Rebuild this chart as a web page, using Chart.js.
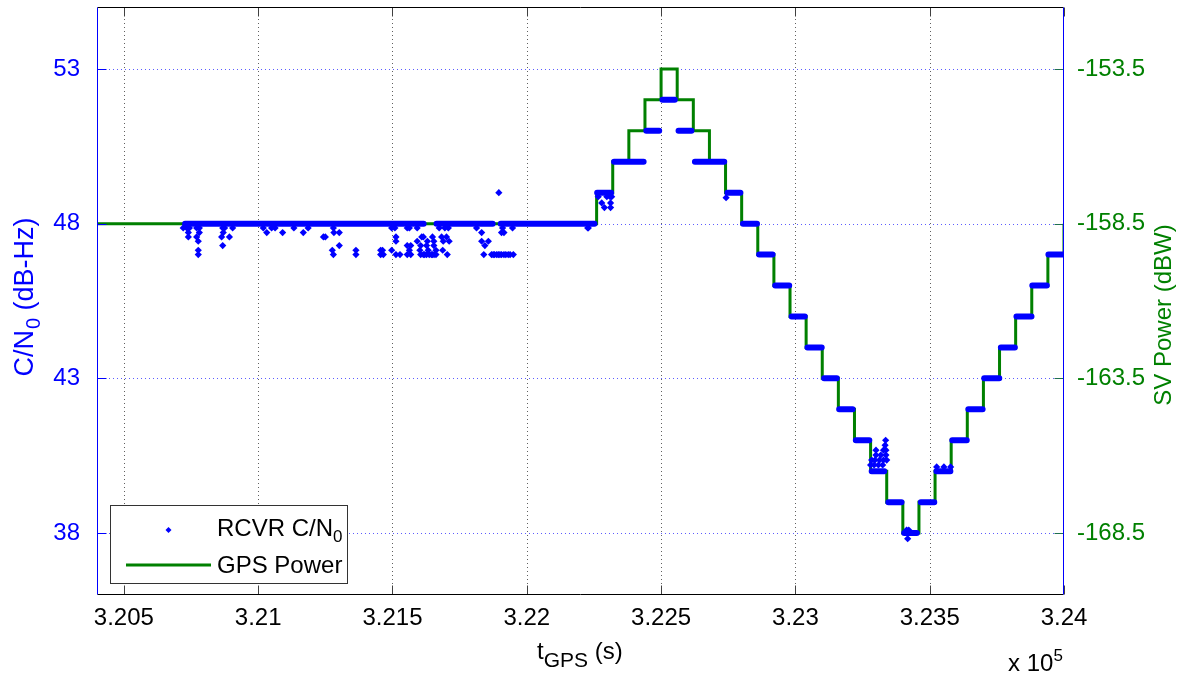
<!DOCTYPE html>
<html>
<head>
<meta charset="utf-8">
<script src="https://cdn.jsdelivr.net/npm/chart.js@4.4.1/dist/chart.umd.min.js"></script>
<style>
  html, body { margin: 0; padding: 0; background: #fff; }
  #wrap { position: relative; width: 1182px; height: 681px; overflow: hidden;
          font-family: Arial, 'Liberation Sans', sans-serif; }
  #chart { position: absolute; left: 0; top: 0; }
  .txt { position: absolute; font-size: 24px; line-height: 24px; white-space: nowrap; }
  .txt sub { font-size: 17px; vertical-align: -6px; line-height: 0; }
  .txt sup { font-size: 17px; vertical-align: 10px; line-height: 0; }
  .rot { width: 300px; text-align: center; transform: rotate(-90deg); transform-origin: 150px 12px; }
  #ylab { font-size: 27px; }
  #ylab sub { font-size: 20px; vertical-align: -7px; margin-left: 1px; }
  #xlab sub { font-size: 21px; vertical-align: -8px; }
  #legend { position: absolute; left: 110px; top: 505px; width: 236px; height: 77px;
            border: 1px solid #333; background: #fff; }
</style>
</head>
<body>
<div id="wrap">
  <canvas id="chart" width="1182" height="681"></canvas>

  <div id="ylab" class="txt rot" style="left:-126px; top:285px; color:#0000ff;">C/N<sub>0</sub> (dB-Hz)</div>
  <div class="txt rot" style="left:1013px; top:303px; color:#008000;">SV Power (dBW)</div>
  <div id="xlab" class="txt" style="left:537px; top:639px; color:#000;">t<sub>GPS</sub> (s)</div>
  <div class="txt" style="left:1008px; top:651px; color:#000;">x 10<sup>5</sup></div>

  <div id="legend">
    <canvas id="legendMarks" width="236" height="77" style="position:absolute;left:0;top:0;"></canvas>
    <div class="txt" style="left:106px; top:10px; color:#000;">RCVR C/N<sub>0</sub></div>
    <div class="txt" style="left:106px; top:47px; color:#000;">GPS Power</div>
  </div>
</div>

<script>
// x axis: GPS time of week (s)
const xTickValues = [320500, 321000, 321500, 322000, 322500, 323000, 323500, 324000];
const xTickLabels = ['3.205', '3.21', '3.215', '3.22', '3.225', '3.23', '3.235', '3.24'];

// left axis: receiver C/N0 (dB-Hz)
const cnTicks = [38, 43, 48, 53];
const cnTickLabels = ['38', '43', '48', '53'];

// right axis: SV power (dBW)
const pwTicks = [-168.5, -163.5, -158.5, -153.5];
const pwTickLabels = ['-168.5', '-163.5', '-158.5', '-153.5'];

// GPS power: time each level starts, and that level (dBW)
const stepTime = [320400, 322260, 322320, 322380, 322440, 322500, 322560, 322620, 322680, 322740,
                  322800, 322860, 322920, 322980, 323040, 323100, 323160, 323220, 323280, 323340,
                  323400, 323460, 323520, 323580, 323640, 323700, 323760, 323820, 323880, 323940, 324000];
const stepPower = [-158.5, -157.5, -156.5, -155.5, -154.5, -153.5, -154.5, -155.5, -156.5, -157.5,
                   -158.5, -159.5, -160.5, -161.5, -162.5, -163.5, -164.5, -165.5, -166.5, -167.5,
                   -168.5, -167.5, -166.5, -165.5, -164.5, -163.5, -162.5, -161.5, -160.5, -159.5, -158.5];

// receiver C/N0: runs where the reported value holds steady
const runStart = [320728, 321664, 321903, 322262, 322325, 322445, 322505, 322565, 322626, 322747,
                  322805, 322865, 322925, 322986, 323045, 323107, 323163, 323225, 323284, 323346,
                  323405, 323467, 323525, 323584, 323644, 323703, 323765, 323823, 323882, 323942];
const runEnd   = [321616, 321873, 322252, 322314, 322435, 322493, 322551, 322613, 322735, 322795,
                  322857, 322915, 322977, 323035, 323098, 323154, 323213, 323275, 323331, 323395,
                  323452, 323517, 323577, 323638, 323697, 323759, 323817, 323879, 323936, 324004];
const runCn0   = [48, 48, 48, 49, 50, 51, 52, 51, 50, 49,
                  48, 47, 46, 45, 44, 43, 42, 41, 40, 39,
                  38, 39, 40, 41, 42, 43, 44, 45, 46, 47];

// receiver C/N0: scattered readings off the runs
const dotTime = [
  320721, 320734, 320744, 320771, 320781, 320868, 320875, 320905, 321019, 321050, 321063, 321133, 321186, 321280,
  321497, 321509, 321555, 321563, 321592, 321674, 321695, 321708, 321813, 321910, 321947, 322227,
  320740, 320781, 320870, 321032, 321091, 321168, 321282, 321302, 321832, 321906, 321915,
  320740, 320771, 320864, 320893, 321243, 321250, 321513, 321609, 321615, 321649, 321683, 321701,
  320777, 321513, 321592, 321630, 321654, 321689, 321711, 321832, 321857,
  320868, 321302, 321555, 321568, 321605, 321627, 321654, 321844,
  320777, 321276, 321364, 321456, 321463, 321497, 321563, 321602, 321633, 321662, 321687,
  320777, 321280, 321364, 321456, 321466, 321513, 321528, 321555, 321568, 321605, 321615, 321620, 321627,
  321637, 321645, 321649, 321655, 321662, 321704, 321840, 321869, 321875, 321880, 321888, 321894, 321900,
  321906, 321915, 321922, 321931, 321938, 321950,
  321896,
  322266, 322298, 322310, 322316, 322279, 322312, 322289, 322312, 322229, 322742,
  323336, 323334, 323300, 323328, 323337, 323300, 323318, 323337,
  323284, 323296, 323313, 323328, 323340, 323280, 323293, 323309, 323325,
  323414, 323422, 323418,
  323526, 323553, 323578
];
const dotCn0 = [
  47.86, 47.86, 47.86, 47.86, 47.86, 47.86, 47.86, 47.86, 47.86, 47.86, 47.86, 47.86, 47.86, 47.86,
  47.86, 47.86, 47.86, 47.86, 47.86, 47.86, 47.86, 47.86, 47.86, 47.86, 47.86, 47.86,
  47.71, 47.71, 47.71, 47.71, 47.71, 47.71, 47.71, 47.71, 47.71, 47.71, 47.71,
  47.57, 47.57, 47.57, 47.57, 47.57, 47.57, 47.57, 47.57, 47.57, 47.57, 47.57, 47.57,
  47.43, 47.43, 47.43, 47.43, 47.43, 47.43, 47.43, 47.43, 47.43,
  47.29, 47.29, 47.29, 47.29, 47.29, 47.29, 47.29, 47.29,
  47.14, 47.14, 47.14, 47.14, 47.14, 47.14, 47.14, 47.14, 47.14, 47.14, 47.14,
  47.0, 47.0, 47.0, 47.0, 47.0, 47.0, 47.0, 47.0, 47.0, 47.0, 47.0, 47.0, 47.0,
  47.0, 47.0, 47.0, 47.0, 47.0, 47.0, 47.0, 47.0, 47.0, 47.0, 47.0, 47.0, 47.0,
  47.0, 47.0, 47.0, 47.0, 47.0, 47.0,
  49.0,
  48.87, 48.87, 48.87, 48.87, 48.67, 48.67, 48.52, 48.52, 47.86, 48.84,
  41.0, 40.84, 40.68, 40.68, 40.68, 40.52, 40.52, 40.52,
  40.36, 40.36, 40.36, 40.36, 40.36, 40.2, 40.2, 40.2, 40.2,
  38.1, 38.1, 37.82,
  40.14, 40.14, 40.14
];

const BLUE = '#0000ff';
const GREEN = '#008000';
const FONT = "Arial, 'Liberation Sans', sans-serif";

// C/N0 axis spans 36..55, power axis is the same span shifted by 206.5 dB
const cnMin = 36, cnMax = 55, pwShift = 206.5;

function buildRuns() {
  var pts = [];
  for (var i = 0; i < runStart.length; i++) {
    pts.push({x: runStart[i], y: runCn0[i]});
    pts.push({x: runEnd[i], y: runCn0[i]});
    pts.push({x: runEnd[i], y: null});
  }
  return pts;
}

function fixTicks(values) {
  return function(scale) { scale.ticks = values.map(v => ({value: v})); };
}

function fixSize(prop, size) {
  return function(scale) {
    scale[prop] = size;
    scale.paddingTop = 0; scale.paddingBottom = 0;
    scale.paddingLeft = 0; scale.paddingRight = 0;
  };
}

const framePlugin = {
  id: 'frame',
  beforeDatasetsDraw(chart) {
    const {ctx, chartArea: a, scales} = chart;
    ctx.save();
    ctx.lineWidth = 1;
    ctx.setLineDash([1, 3]);
    ctx.strokeStyle = '#606060';
    xTickValues.forEach(function(v) {
      var px = Math.round(scales.x.getPixelForValue(v)) + 0.5;
      if (px > a.right - 2) return;
      ctx.beginPath(); ctx.moveTo(px, a.top); ctx.lineTo(px, a.bottom); ctx.stroke();
    });
    ctx.strokeStyle = '#5c5cff';
    cnTicks.forEach(function(v) {
      var py = Math.round(scales.y.getPixelForValue(v)) + 0.5;
      ctx.beginPath(); ctx.moveTo(a.left, py); ctx.lineTo(a.right, py); ctx.stroke();
    });
    ctx.restore();
  },
  afterDatasetsDraw(chart) {
    const {ctx, chartArea: a, scales} = chart;
    const L = a.left + 0.5, R = a.right - 0.5, T = a.top + 0.5, B = a.bottom - 0.5;
    ctx.save();
    ctx.lineWidth = 1;
    // inward tick marks
    ctx.strokeStyle = '#404040';
    xTickValues.forEach(function(v) {
      var px = Math.round(scales.x.getPixelForValue(v)) + 0.5;
      ctx.beginPath(); ctx.moveTo(px, B); ctx.lineTo(px, B - 9); ctx.stroke();
      ctx.beginPath(); ctx.moveTo(px, T); ctx.lineTo(px, T + 9); ctx.stroke();
    });
    ctx.strokeStyle = BLUE;
    cnTicks.forEach(function(v) {
      var py = Math.round(scales.y.getPixelForValue(v)) + 0.5;
      ctx.beginPath(); ctx.moveTo(L, py); ctx.lineTo(L + 9, py); ctx.stroke();
    });
    ctx.strokeStyle = '#1f6f4f';
    pwTicks.forEach(function(v) {
      var py = Math.round(scales.y2.getPixelForValue(v)) + 0.5;
      ctx.beginPath(); ctx.moveTo(R, py); ctx.lineTo(R - 9, py); ctx.stroke();
    });
    // box
    ctx.strokeStyle = '#000';
    ctx.beginPath(); ctx.moveTo(L, T); ctx.lineTo(R, T); ctx.stroke();
    ctx.beginPath(); ctx.moveTo(L, B); ctx.lineTo(R, B); ctx.stroke();
    ctx.strokeStyle = BLUE;
    ctx.beginPath(); ctx.moveTo(L, T); ctx.lineTo(L, B); ctx.stroke();
    ctx.beginPath(); ctx.moveTo(R, T); ctx.lineTo(R, B); ctx.stroke();
    ctx.restore();
  }
};

function drawLegendMarks() {
  var c = document.getElementById('legendMarks').getContext('2d');
  c.fillStyle = BLUE;
  c.beginPath();
  c.moveTo(57.5, 21); c.lineTo(60.5, 24); c.lineTo(57.5, 27); c.lineTo(54.5, 24);
  c.closePath(); c.fill();
  c.strokeStyle = GREEN;
  c.lineWidth = 3;
  c.beginPath(); c.moveTo(15, 59); c.lineTo(100, 59); c.stroke();
}

window.onload = function() {
  const ctx = document.getElementById('chart');

  const myChart = new Chart(ctx, {
    type: 'line',
    data: {
      datasets: [
        {
          label: 'RCVR C/N0',
          data: dotTime.map((t, i) => ({x: t, y: dotCn0[i]})),
          yAxisID: 'y',
          showLine: false,
          pointStyle: 'rectRot',
          pointRadius: 3.6,
          pointBorderWidth: 0,
          pointBackgroundColor: BLUE,
          pointBorderColor: BLUE,
          order: 0
        },
        {
          label: 'RCVR C/N0 runs',
          data: buildRuns(),
          yAxisID: 'y',
          borderColor: BLUE,
          borderWidth: 6,
          borderCapStyle: 'round',
          pointRadius: 0,
          spanGaps: false,
          order: 1
        },
        {
          label: 'GPS Power',
          data: stepTime.map((t, i) => ({x: t, y: stepPower[i]})),
          yAxisID: 'y2',
          stepped: true,
          borderColor: GREEN,
          borderWidth: 3,
          pointRadius: 0,
          order: 2
        }
      ]
    },
    options: {
      responsive: false,
      animation: false,
      events: [],
      layout: { padding: { top: 7, left: 0, right: 0, bottom: 0 } },
      plugins: { legend: { display: false }, tooltip: { enabled: false } },
      scales: {
        x: {
          type: 'linear',
          position: 'bottom',
          min: 320400,
          max: 324000,
          afterBuildTicks: fixTicks(xTickValues),
          afterFit: fixSize('height', 86),
          grid: { display: false },
          border: { display: false },
          ticks: {
            autoSkip: false,
            maxRotation: 0,
            padding: 1,
            color: '#000',
            font: { family: FONT, size: 24 },
            callback: (v) => xTickLabels[xTickValues.indexOf(v)]
          }
        },
        y: {
          type: 'linear',
          position: 'left',
          min: cnMin,
          max: cnMax,
          afterBuildTicks: fixTicks(cnTicks),
          afterFit: fixSize('width', 97),
          grid: { display: false },
          border: { display: false },
          ticks: {
            padding: 9,
            color: BLUE,
            font: { family: FONT, size: 24 },
            callback: (v) => cnTickLabels[cnTicks.indexOf(v)]
          }
        },
        y2: {
          type: 'linear',
          position: 'right',
          min: cnMin - pwShift,
          max: cnMax - pwShift,
          afterBuildTicks: fixTicks(pwTicks),
          afterFit: fixSize('width', 118),
          grid: { display: false },
          border: { display: false },
          ticks: {
            padding: 5,
            color: GREEN,
            font: { family: FONT, size: 24 },
            callback: (v) => pwTickLabels[pwTicks.indexOf(v)]
          }
        }
      }
    },
    plugins: [framePlugin]
  });

  drawLegendMarks();
};
</script>
</body>
</html>
